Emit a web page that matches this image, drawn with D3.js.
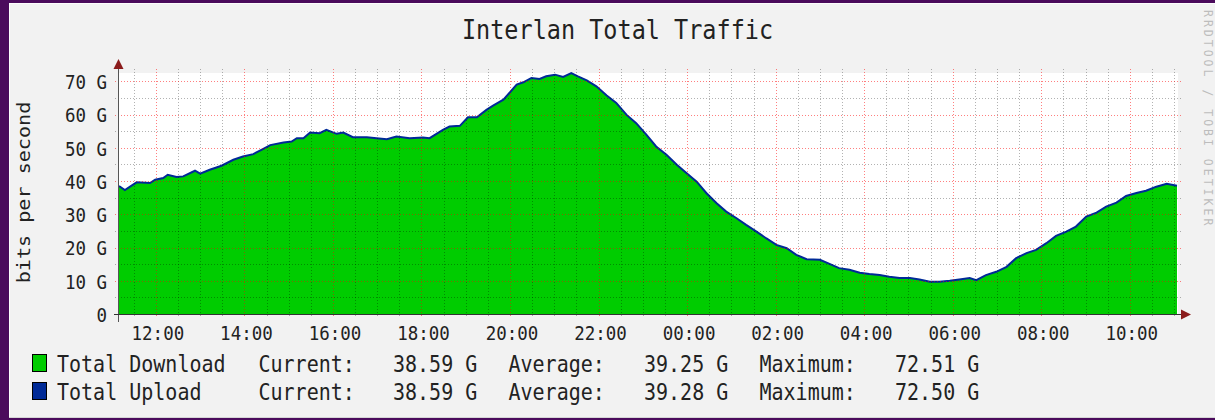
<!DOCTYPE html>
<meta charset="utf-8">
<title>Interlan Total Traffic</title>
<style>
body { margin: 0; background: #4b0b5c; }
svg { display: block; font-family: "DejaVu Sans Mono", monospace; }
.grid-minor { stroke: #000; stroke-opacity: .3; stroke-dasharray: 1,2; }
.grid-major { stroke: #f00; stroke-opacity: .5; stroke-dasharray: 1,2; }
.lbl { fill: #222; }
</style>
<body>
<svg width="1215" height="420"></svg>
<script src="https://cdnjs.cloudflare.com/ajax/libs/d3/7.8.5/d3.min.js"></script>
<script>
// --- data ---
const times = ["11:10","11:18","11:25","11:34","11:52","11:59","12:10","12:16","12:28","12:37","12:53",
  "13:00","13:13","13:29","13:45","13:58","14:12","14:25","14:35","14:53","15:04","15:11","15:20","15:29",
  "15:42","15:51","16:05","16:14","16:27","16:46","16:59","17:13","17:26","17:44","18:02","18:11","18:29",
  "18:38","18:52","19:03","19:15","19:28","19:37","19:51","20:00","20:09","20:18","20:29","20:40","20:49",
  "21:01","21:12","21:23","21:32","21:44","21:57","22:11","22:24","22:38","22:51","23:05","23:18","23:32",
  "23:46","23:59","00:13","00:26","00:40","00:53","01:07","01:20","01:34","01:47","02:01","02:15","02:28",
  "02:42","03:00","03:13","03:26","03:40","03:54","04:07","04:21","04:34","04:48","05:02","05:15","05:29",
  "05:42","05:56","06:09","06:23","06:32","06:45","06:59","07:13","07:26","07:40","07:53","08:07","08:20",
  "08:34","08:47","09:01","09:15","09:28","09:42","09:55","10:09","10:22","10:36","10:50","11:04"];
const downloadValues = [38.5,37.3,38.3,39.6,39.4,40.4,40.9,41.9,41.2,41.4,43.1,
  42.2,43.4,44.6,46.4,47.4,48.1,49.6,50.8,51.6,51.9,52.9,52.9,54.6,
  54.4,55.4,54.2,54.6,53.2,53.2,52.9,52.6,53.4,52.9,53.1,52.9,55.4,
  56.4,56.6,59.2,59.2,61.4,62.7,64.5,66.7,69.0,69.7,71.0,70.7,71.5,
  72.0,71.3,72.5,71.5,70.3,68.5,65.7,63.5,59.9,57.4,53.9,50.4,47.9,
  44.9,42.4,39.8,36.4,33.3,30.8,28.8,26.8,24.8,22.8,20.8,19.8,17.8,
  16.5,16.3,15.1,13.8,13.3,12.4,12.0,11.7,11.2,10.8,10.8,10.4,9.7,
  9.7,10.0,10.4,10.8,10.2,11.7,12.7,14.2,16.8,18.3,19.3,21.3,23.5,
  24.8,26.3,29.3,30.5,32.3,33.5,35.5,36.4,37.1,38.3,39.2,38.6];
const uploadValues = [38.5,37.3,38.3,39.6,39.4,40.4,40.9,41.9,41.2,41.4,43.1,
  42.2,43.4,44.6,46.4,47.4,48.1,49.6,50.8,51.6,51.9,52.9,52.9,54.6,
  54.4,55.4,54.2,54.6,53.2,53.2,52.9,52.6,53.4,52.9,53.1,52.9,55.4,
  56.4,56.6,59.2,59.2,61.4,62.7,64.5,66.7,69.0,69.7,71.0,70.7,71.5,
  72.0,71.3,72.5,71.5,70.3,68.5,65.7,63.5,59.9,57.4,53.9,50.4,47.9,
  44.9,42.4,39.8,36.4,33.3,30.8,28.8,26.8,24.8,22.8,20.8,19.8,17.8,
  16.5,16.3,15.1,13.8,13.3,12.4,12.0,11.7,11.2,10.8,10.8,10.4,9.7,
  9.7,10.0,10.4,10.8,10.2,11.7,12.7,14.2,16.8,18.3,19.3,21.3,23.5,
  24.8,26.3,29.3,30.5,32.3,33.5,35.5,36.4,37.1,38.3,39.2,38.6];
const yTicks = [0,10,20,30,40,50,60,70];
const xTickLabels = ["12:00","14:00","16:00","18:00","20:00","22:00","00:00","02:00","04:00","06:00","08:00","10:00"];
const legendNames   = ["Total Download","Total Upload"];
const legendColors  = ["#00cc00","#002a97"];
const legendCurrent = ["38.59 G","38.59 G"];
const legendAverage = ["39.25 G","39.28 G"];
const legendMaximum = ["72.51 G","72.50 G"];

const plotL = 119, plotR = 1177, plotT = 73, plotB = 314;
const S = 1.15; // text is a little taller than the font's natural shape

// "HH:MM" strings -> dates, rolling over midnight
function toDates(list, startHour) {
  let day = 1, last = startHour;
  return list.map(function(t) {
    const p = t.split(":").map(Number);
    if (p[0] < last) day++;
    last = p[0];
    return new Date(2024, 0, day, p[0], p[1]);
  });
}
const dates = toDates(times, 0);
const tickDates = toDates(xTickLabels, 11);
const data = dates.map(function(d, i) { return {date: d, down: downloadValues[i], up: uploadValues[i]}; });

const svg = d3.select("svg");

// panel
svg.append("rect").attr("x", 9).attr("y", 3).attr("width", 1206).attr("height", 415).attr("fill", "#f2f2f2");
svg.append("line").attr("x1", 9.5).attr("x2", 9.5).attr("y1", 3).attr("y2", 418).attr("stroke", "#fdfdfd");
svg.append("line").attr("x1", 9).attr("x2", 1215).attr("y1", 3.5).attr("y2", 3.5).attr("stroke", "#fdfdfd");
svg.append("line").attr("x1", 9).attr("x2", 1215).attr("y1", 417.5).attr("y2", 417.5).attr("stroke", "#d6d6d6");
svg.append("rect").attr("x", plotL).attr("y", plotT).attr("width", plotR - plotL + 1).attr("height", plotB - plotT).attr("fill", "#fff");

const x = d3.scaleTime().domain([dates[0], dates[dates.length - 1]]).range([plotL, plotR]);
const y = d3.scaleLinear().domain([0, 72.5]).range([plotB, plotT]);

// graph
svg.append("path").datum(data)
  .attr("fill", legendColors[0])
  .attr("d", d3.area().x(d => x(d.date)).y0(y(0)).y1(d => y(d.down)));
svg.append("path").datum(data)
  .attr("fill", "none").attr("stroke", legendColors[1]).attr("stroke-width", 2)
  .attr("d", d3.line().x(d => x(d.date)).y(d => y(d.up)));

// grid (drawn over the graph like rrdtool)
const grid = svg.append("g");
const minorX = x.ticks(d3.timeMinute.every(30)).filter(d => d.getMinutes() !== 0 || d.getHours() % 2);
const majorX = x.ticks(d3.timeHour.every(2));
grid.selectAll(".vx").data(minorX).join("line").attr("class", "grid-minor")
  .attr("x1", d => Math.round(x(d)) + .5).attr("x2", d => Math.round(x(d)) + .5).attr("y1", plotT - 4).attr("y2", plotB + 4);
grid.selectAll(".vX").data(majorX).join("line").attr("class", "grid-major")
  .attr("x1", d => Math.round(x(d)) + .5).attr("x2", d => Math.round(x(d)) + .5).attr("y1", plotT - 4).attr("y2", plotB + 4);
const minorY = d3.range(5, 72.5, 10);
grid.selectAll(".hy").data(minorY).join("line").attr("class", "grid-minor")
  .attr("x1", plotL - 4).attr("x2", plotR + 4).attr("y1", d => Math.round(y(d)) + .5).attr("y2", d => Math.round(y(d)) + .5);
grid.selectAll(".hY").data(yTicks.slice(1)).join("line").attr("class", "grid-major")
  .attr("x1", plotL - 4).attr("x2", plotR + 4).attr("y1", d => Math.round(y(d)) + .5).attr("y2", d => Math.round(y(d)) + .5);

// axes lines + arrows
svg.append("line").attr("x1", plotL - .5).attr("x2", plotL - .5).attr("y1", plotB + 8).attr("y2", plotT - 6).attr("stroke", "#555");
svg.append("line").attr("x1", plotL - 5).attr("x2", plotR + 6).attr("y1", plotB + .5).attr("y2", plotB + .5).attr("stroke", "#333");
svg.append("path").attr("fill", "#8b1c1c").attr("d", `M${plotL - 5.5},${plotT - 4}L${plotL - .5},${plotT - 14}L${plotL + 4.5},${plotT - 4}Z`);
svg.append("path").attr("fill", "#8b1c1c").attr("d", `M${plotR + 4},${plotB - 4.5}L${plotR + 14},${plotB + .5}L${plotR + 4},${plotB + 5.5}Z`);

// y labels
const yAxis = svg.append("g").attr("transform", `translate(${plotL},0)`)
  .call(d3.axisLeft(y).tickValues(yTicks).tickSize(0).tickPadding(12).tickFormat(d => d === 0 ? "0" : d + " G"));
yAxis.select(".domain").remove();
yAxis.selectAll("text").attr("class", "lbl").attr("font-family", "DejaVu Sans Mono").attr("font-size", 17.5)
  .attr("dy", ".36em").attr("transform", `scale(1,${S})`);

// x labels
const xAxis = svg.append("g").attr("transform", `translate(0,${plotB})`)
  .call(d3.axisBottom(x).tickValues(tickDates).tickSize(0).tickFormat(d3.timeFormat("%H:%M")));
xAxis.select(".domain").remove();
xAxis.selectAll("text").attr("class", "lbl").attr("font-family", "DejaVu Sans Mono").attr("font-size", 17.5)
  .attr("y", 0).attr("dy", 0).attr("dx", 1.5).attr("transform", `translate(0,25.5) scale(1,${S})`);

// titles
svg.append("text").attr("class", "lbl").attr("font-size", 23.5).attr("text-anchor", "middle")
  .attr("transform", `translate(617.5,39) scale(1,${S})`).text("Interlan Total Traffic");
svg.append("text").attr("class", "lbl").attr("font-size", 17.5).attr("text-anchor", "middle")
  .attr("transform", `translate(29.5,192.5) rotate(-90) scale(${S},1)`).text("bits per second");
svg.append("text").attr("fill", "#bdbdbd").attr("font-size", 11.5).attr("letter-spacing", 3)
  .attr("transform", "translate(1204,10) rotate(90)").text("RRDTOOL / TOBI OETIKER");

// legend
const legendRows = [372, 400];
const cols = [57, 258.5, 393, 508.5, 644, 759.5, 895];
legendNames.forEach(function(name, i) {
  const by = legendRows[i];
  svg.append("rect").attr("x", 32.5).attr("y", by - 17.5).attr("width", 14).attr("height", 17)
    .attr("fill", legendColors[i]).attr("stroke", "#000");
  const parts = [name, "Current:", legendCurrent[i], "Average:", legendAverage[i], "Maximum:", legendMaximum[i]];
  parts.forEach(function(p, j) {
    svg.append("text").attr("class", "lbl").attr("font-size", 20).attr("xml:space", "preserve")
      .attr("transform", `translate(${cols[j]},${by}) scale(1,${S})`).text(p);
  });
});
</script>
</body>
